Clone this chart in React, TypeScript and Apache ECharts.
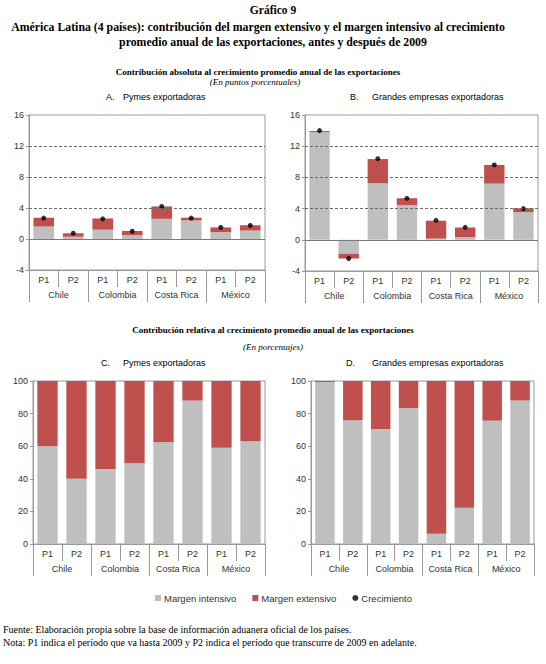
import { useEffect, useRef } from "react";
import * as echarts from "echarts";

const PERIODS = ["P1", "P2", "P1", "P2", "P1", "P2", "P1", "P2"];
const COUNTRIES = ["Chile", "Colombia", "Costa Rica", "México"];

// A. Pymes, contribución absoluta (puntos porcentuales)
const A_INTENSIVE = [1.6, 0.3, 1.2, 0.5, 2.6, 2.4, 0.88, 1.1];
const A_EXTENSIVE = [1.15, 0.45, 1.45, 0.52, 1.6, 0.35, 0.62, 0.67];
const A_GROWTH = [2.7, 0.75, 2.6, 1.0, 4.2, 2.7, 1.5, 1.75];

// B. Grandes empresas, contribución absoluta
const B_INTENSIVE = [13.8, -1.8, 7.25, 4.45, 0.15, 0.35, 7.2, 3.55];
const B_EXTENSIVE = [0.15, -0.6, 3.1, 0.88, 2.3, 1.23, 2.4, 0.5];
const B_GROWTH = [14.0, -2.4, 10.4, 5.3, 2.5, 1.6, 9.6, 4.0];

// C. Pymes, contribución relativa (%)
const C_INTENSIVE = [60, 40, 46, 49.5, 62.5, 88, 59, 63];
const C_EXTENSIVE = [40, 60, 54, 50.5, 37.5, 12, 41, 37];

// D. Grandes empresas, contribución relativa (%)
const D_INTENSIVE = [99.4, 76, 70.5, 83.3, 6.3, 22.2, 75.7, 88];
const D_EXTENSIVE = [0.6, 24, 29.5, 16.7, 93.7, 77.8, 24.3, 12];

const ABS_GRIDLINES = [4, 8, 12];

const GRAY = "#bfbfbf";
const RED = "#c0504d";
const AXIS = "#9a9a9a";
const TEXT = "#333";
const SANS = "Liberation Sans";
const SERIF = "Liberation Serif";

type Panel = {
  left: number;
  top: number;
  width: number;
  height: number;
  min: number;
  max: number;
  interval: number;
  intensive: number[];
  extensive: number[];
  growth?: number[];
};

const PANELS: Panel[] = [
  { left: 29, top: 115, width: 236, height: 155, min: -4, max: 16, interval: 4, intensive: A_INTENSIVE, extensive: A_EXTENSIVE, growth: A_GROWTH },
  { left: 305, top: 115, width: 233, height: 156, min: -4, max: 16, interval: 4, intensive: B_INTENSIVE, extensive: B_EXTENSIVE, growth: B_GROWTH },
  { left: 33, top: 381, width: 232, height: 163, min: 0, max: 100, interval: 20, intensive: C_INTENSIVE, extensive: C_EXTENSIVE },
  { left: 311, top: 381, width: 223, height: 163, min: 0, max: 100, interval: 20, intensive: D_INTENSIVE, extensive: D_EXTENSIVE },
];

const label = { fontFamily: SANS, fontSize: 9, color: TEXT };

function buildOption() {
  const grid: any[] = [];
  const xAxis: any[] = [];
  const yAxis: any[] = [];
  const series: any[] = [];

  PANELS.forEach((p, i) => {
    grid.push({
      left: p.left,
      top: p.top,
      width: p.width,
      height: p.height,
      show: true,
      borderColor: AXIS,
      borderWidth: 1,
    });
    xAxis.push({
      type: "category",
      gridIndex: i,
      data: PERIODS,
      position: "bottom",
      axisLine: { show: true, onZero: false, lineStyle: { color: AXIS } },
      axisTick: { show: true, interval: 0, length: 17, lineStyle: { color: AXIS, width: 1 } },
      axisLabel: { ...label, interval: 0, margin: 5 },
    });
    xAxis.push({
      type: "category",
      gridIndex: i,
      data: COUNTRIES,
      position: "bottom",
      axisLine: { show: false, onZero: false },
      axisTick: { show: true, interval: 0, length: 32, lineStyle: { color: AXIS, width: 1 } },
      axisLabel: { ...label, interval: 0, margin: 20 },
    });
    yAxis.push({
      type: "value",
      gridIndex: i,
      min: p.min,
      max: p.max,
      interval: p.interval,
      axisLine: { show: true, lineStyle: { color: AXIS } },
      axisTick: { show: true, length: 3, lineStyle: { color: AXIS } },
      splitLine: { show: false },
      axisLabel: { ...label, margin: 5 },
    });

    if (p.growth) {
      series.push({
        type: "line",
        xAxisIndex: 2 * i,
        yAxisIndex: i,
        data: [],
        z: 1,
        silent: true,
        markLine: {
          silent: true,
          symbol: "none",
          label: { show: false },
          lineStyle: { color: "#6b6b6b", type: [3, 2], width: 1 },
          data: [
            ...ABS_GRIDLINES.map((v) => ({ yAxis: v })),
            { yAxis: 0, lineStyle: { type: "solid", color: "#7a7a7a" } },
          ],
        },
      });
    }

    series.push({
      name: "Margen intensivo",
      type: "bar",
      xAxisIndex: 2 * i,
      yAxisIndex: i,
      stack: "s" + i,
      barWidth: "70%",
      itemStyle: { color: GRAY },
      data: p.intensive,
      z: 2,
    });
    series.push({
      name: "Margen extensivo",
      type: "bar",
      xAxisIndex: 2 * i,
      yAxisIndex: i,
      stack: "s" + i,
      barWidth: "70%",
      itemStyle: { color: RED },
      data: p.extensive,
      z: 2,
    });
    series.push({
      name: "Crecimiento",
      type: "scatter",
      xAxisIndex: 2 * i,
      yAxisIndex: i,
      symbolSize: 5,
      itemStyle: { color: "#000" },
      data: p.growth ?? [],
      z: 3,
    });
  });

  const serifBold = (size: number) => `bold ${size}px "${SERIF}"`;
  const txt = (text: string, x: number, y: number, font: string, align = "center") => ({
    type: "text",
    x,
    y,
    silent: true,
    style: { text, font, fill: "#000", align, verticalAlign: "middle" },
  });

  const graphic = [
    txt("Gráfico 9", 273, 10, serifBold(11.5)),
    txt(
      "América Latina (4 países): contribución del margen extensivo y el margen intensivo al crecimiento",
      258,
      27,
      serifBold(11.8),
    ),
    txt("promedio anual de las exportaciones, antes y después de 2009", 273, 42, serifBold(11.8)),
    txt("Contribución absoluta al crecimiento promedio anual de las exportaciones", 258, 72, serifBold(9)),
    txt("(En puntos porcentuales)", 255, 82, `italic 9px "${SERIF}"`),
    txt("A.", 106, 97, `9px "${SANS}"`, "left"),
    txt("Pymes exportadoras", 123, 97, `9px "${SANS}"`, "left"),
    txt("B.", 350, 97, `9px "${SANS}"`, "left"),
    txt("Grandes empresas exportadoras", 372, 97, `9px "${SANS}"`, "left"),
    txt("Contribución relativa al crecimiento promedio anual de las exportaciones", 273, 330, serifBold(9)),
    txt("(En porcentajes)", 273, 347, `italic 9px "${SERIF}"`),
    txt("C.", 101, 363, `9px "${SANS}"`, "left"),
    txt("Pymes exportadoras", 123, 363, `9px "${SANS}"`, "left"),
    txt("D.", 346, 363, `9px "${SANS}"`, "left"),
    txt("Grandes empresas exportadoras", 372, 363, `9px "${SANS}"`, "left"),
    txt(
      "Fuente: Elaboración propia sobre la base de información aduanera oficial de los países.",
      3,
      629,
      `10px "${SERIF}"`,
      "left",
    ),
    txt(
      "Nota: P1 indica el período que va hasta 2009 y P2 indica el período que transcurre de 2009 en adelante.",
      3,
      642,
      `10px "${SERIF}"`,
      "left",
    ),
  ];

  return {
    animation: false,
    backgroundColor: "#fff",
    grid,
    xAxis,
    yAxis,
    series,
    graphic,
    legend: {
      top: 588,
      left: 150,
      itemWidth: 6,
      itemHeight: 6,
      itemGap: 16,
      selectedMode: false,
      textStyle: { fontFamily: SANS, fontSize: 9.5, color: TEXT, padding: [0, 0, 0, -2] },
      data: [
        { name: "Margen intensivo", icon: "rect" },
        { name: "Margen extensivo", icon: "rect" },
        { name: "Crecimiento", icon: "circle" },
      ],
    },
  };
}

export default function App() {
  const ref = useRef<HTMLDivElement | null>(null);

  useEffect(() => {
    if (!ref.current) return;
    const chart = echarts.init(ref.current, undefined, { renderer: "svg" });
    chart.setOption(buildOption() as any);
    return () => chart.dispose();
  }, []);

  return (
    <div
      ref={ref}
      style={{ position: "absolute", left: 0, top: 0, width: 546, height: 664, background: "#fff" }}
    />
  );
}
